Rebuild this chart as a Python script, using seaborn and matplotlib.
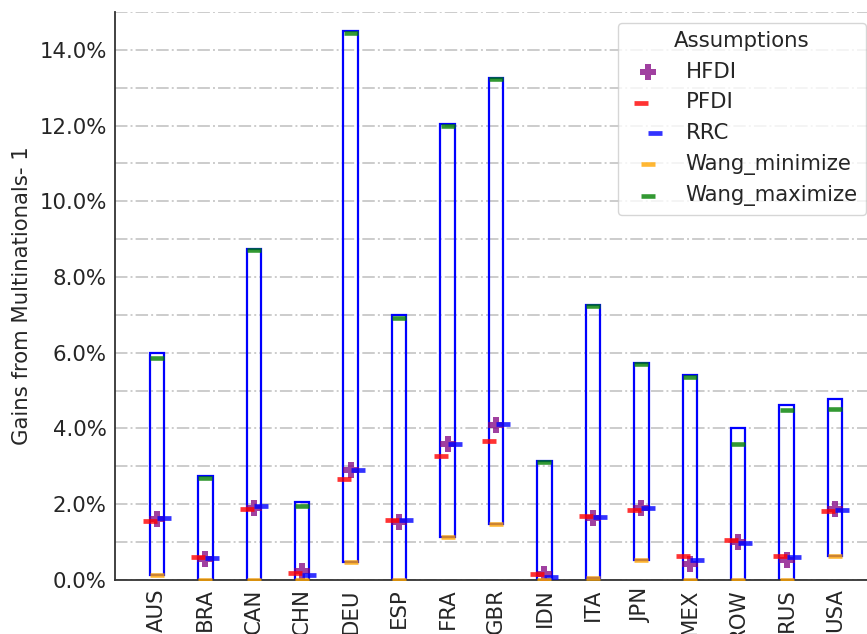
import numpy as np
import matplotlib
matplotlib.use("Agg")
import matplotlib.pyplot as plt
from matplotlib.ticker import PercentFormatter, MultipleLocator
import seaborn as sns

# Gains from multinationals (in percent) by country and assumption
countries = ["AUS", "BRA", "CAN", "CHN", "DEU", "ESP", "FRA", "GBR",
             "IDN", "ITA", "JPN", "MEX", "ROW", "RUS", "USA"]
hfdi = [1.60, 0.56, 1.90, 0.22, 2.89, 1.54, 3.58, 4.08,
        0.15, 1.64, 1.91, 0.42, 0.99, 0.52, 1.87]
pfdi = [1.56, 0.59, 1.86, 0.19, 2.66, 1.59, 3.27, 3.66,
        0.16, 1.68, 1.84, 0.63, 1.05, 0.63, 1.83]
rrc = [1.63, 0.57, 1.95, 0.12, 2.89, 1.58, 3.58, 4.11,
       0.08, 1.67, 1.91, 0.52, 0.96, 0.59, 1.85]
wang_min = [0.13, 0.0, 0.0, 0.0, 0.46, 0.0, 1.13, 1.48,
            0.0, 0.05, 0.53, 0.0, 0.0, 0.0, 0.64]
wang_max = [5.85, 2.70, 8.70, 1.95, 14.45, 6.91, 12.00, 13.22,
            3.11, 7.22, 5.70, 5.37, 3.59, 4.49, 4.52]
# Upper end of the admissible range for each country
range_high = [6.00, 2.75, 8.75, 2.06, 14.49, 7.00, 12.05, 13.25,
              3.13, 7.25, 5.74, 5.40, 4.00, 4.61, 4.77]

sns.set_style("white")
plt.rcParams["font.family"] = ["DejaVu Sans"]
FS = 15.3

fig = plt.figure(figsize=(8.67, 6.34), dpi=100)
ax = fig.add_axes([115 / 867, (634 - 579.8) / 634,
                   (877 - 115) / 867, (579.8 - 12) / 634])

# Range boxes
heights = np.array(range_high) - np.array(wang_min)
ax.bar(countries, heights, bottom=wang_min, width=0.3, fill=False,
       edgecolor="blue", linewidth=1.6, zorder=2)

left_dash = [(-1, 0), (0, 0)]
right_dash = [(0, 0), (1, 0)]

sns.scatterplot(x=countries, y=hfdi, marker="P", s=120, color="purple",
                edgecolor="purple", linewidth=0, alpha=0.75,
                label="HFDI", ax=ax, zorder=3)
sns.scatterplot(x=countries, y=pfdi, marker=left_dash, s=430, color="red",
                edgecolor="red", linewidth=3.4, alpha=0.8,
                label="PFDI", ax=ax, zorder=3)
sns.scatterplot(x=countries, y=rrc, marker=right_dash, s=430, color="blue",
                edgecolor="blue", linewidth=3.4, alpha=0.8,
                label="RRC", ax=ax, zorder=3)
sns.scatterplot(x=countries, y=wang_min, marker="_", s=100, color="orange",
                linewidth=3.3, alpha=0.8,
                label="Wang_minimize", ax=ax, zorder=3)
sns.scatterplot(x=countries, y=wang_max, marker="_", s=100, color="green",
                linewidth=3.3, alpha=0.8,
                label="Wang_maximize", ax=ax, zorder=3)

ax.set_xlim(-0.865, 14.865)
ax.set_ylim(0, 15)
ax.yaxis.set_major_locator(MultipleLocator(2))
ax.yaxis.set_minor_locator(MultipleLocator(1))
ax.yaxis.set_major_formatter(PercentFormatter(xmax=100, decimals=1))
ax.set_axisbelow(True)
ax.grid(False)
ax.grid(True, which="both", axis="y", linestyle="-.", color="#cccccc",
        linewidth=1.4)

ax.tick_params(axis="both", which="both", length=0, pad=6, labelsize=FS)
ax.tick_params(axis="x", labelrotation=90)
ax.set_xlabel("")
ax.set_ylabel("Gains from Multinationals- 1", fontsize=FS, labelpad=5)

sns.despine(ax=ax)
for side in ("left", "bottom"):
    ax.spines[side].set_color("#333333")
    ax.spines[side].set_linewidth(1.3)

ax.legend(title="Assumptions", loc="upper right", fontsize=FS,
          title_fontsize=FS)

fig.savefig("out.png", dpi=100)
